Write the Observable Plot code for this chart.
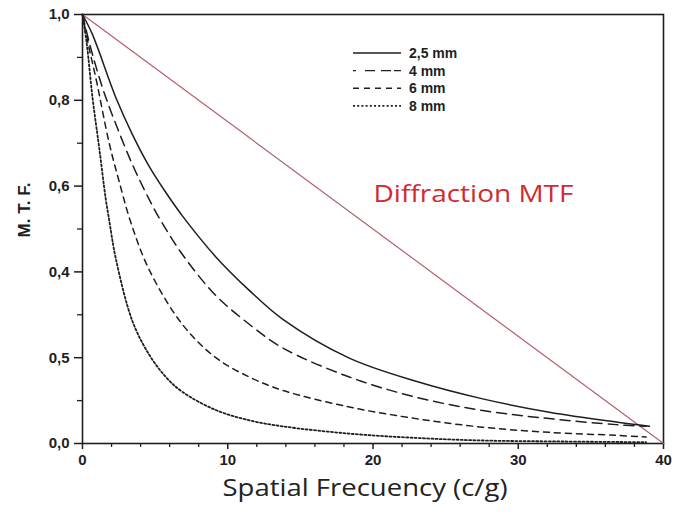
<!DOCTYPE html>
<html><head><meta charset="utf-8">
<script src="https://cdn.jsdelivr.net/npm/d3@7"></script>
<script src="https://cdn.jsdelivr.net/npm/@observablehq/plot@0.6"></script>
<style>body{margin:0;background:#fff} #chart{width:673px;height:519px}</style>
</head><body><div id="chart"></div>
<script>
// ---- data ----
const seriesNames = ["2,5 mm", "4 mm", "6 mm", "8 mm"];

const freq25 = [0, 0.69, 2.3, 3.44, 4.59, 5.74, 6.89, 9.18, 11.48, 13.77, 18.37, 22.96, 27.55, 32.14, 36.73, 39.03];
const mtf25  = [1.0, 0.953, 0.806, 0.72, 0.646, 0.585, 0.53, 0.435, 0.357, 0.29, 0.199, 0.145, 0.104, 0.073, 0.05, 0.04];

const freq4 = [0, 0.5, 1.38, 2.3, 3.44, 4.59, 5.28, 6.89, 9.18, 11.48, 13.77, 18.37, 22.96, 27.55, 32.14, 36.73, 38.8];
const mtf4  = [1.0, 0.93, 0.829, 0.744, 0.65, 0.569, 0.526, 0.44, 0.345, 0.278, 0.223, 0.155, 0.108, 0.077, 0.058, 0.044, 0.04];

const freq6 = [0, 0.4, 0.92, 1.84, 2.53, 3.33, 4.59, 6.89, 9.18, 11.48, 13.77, 18.37, 22.96, 27.55, 32.14, 36.73, 38.8];
const mtf6  = [1.0, 0.93, 0.852, 0.70, 0.61, 0.515, 0.405, 0.277, 0.20, 0.155, 0.124, 0.085, 0.058, 0.038, 0.026, 0.019, 0.015];

const freq8 = [0, 0.3, 0.69, 1.15, 1.6, 1.84, 2.3, 3.44, 4.59, 5.74, 6.89, 9.18, 11.48, 13.77, 18.37, 22.96, 27.55, 32.14, 38.8];
const mtf8  = [1.0, 0.93, 0.806, 0.689, 0.57, 0.52, 0.43, 0.285, 0.207, 0.155, 0.12, 0.078, 0.054, 0.04, 0.023, 0.013, 0.007, 0.005, 0.003];

const diffFreq = [0, 40];
const diffMtf  = [1.0, 0.0];
const diffLabel = "Diffraction MTF";

const xTicks = [0, 10, 20, 30, 40];
const xTickLabels = ["0", "10", "20", "30", "40"];
const xMinorTicks = [2, 4, 6, 8, 12, 14, 16, 18, 22, 24, 26, 28, 32, 34, 36, 38];
const yTicks = [0, 0.2, 0.4, 0.6, 0.8, 1.0];
const yTickLabels = ["0,0", "0,5", "0,4", "0,6", "0,8", "1,0"];
const yMinorTicks = [0.1, 0.3, 0.5, 0.7, 0.9];
const xLabel = "Spatial Frecuency (c/g)";
const yLabel = "M. T. F.";

// ---- styles ----
const dashes = [null, "10,6", "6,5", "2,2.2"];
const ink = "#1e1e1e";
const axisFont = "'Liberation Sans', Arial, sans-serif";
const labelFont = "'Open Sans', Lato, sans-serif";

const zip = (xs, ys, name) => xs.map((x, i) => ({x, y: ys[i], series: name}));
const curves = [
  zip(freq25, mtf25, seriesNames[0]),
  zip(freq4, mtf4, seriesNames[1]),
  zip(freq6, mtf6, seriesNames[2]),
  zip(freq8, mtf8, seriesNames[3])
];
const diffRows = zip(diffFreq, diffMtf, diffLabel);

const plot = Plot.plot({
  width: 673, height: 519,
  marginLeft: 82, marginRight: 10, marginTop: 14, marginBottom: 76,
  x: {domain: [0, 40]},
  y: {domain: [0, 1]},
  style: {fontFamily: axisFont, background: "#fff", color: ink},
  marks: [
    Plot.axisX({ticks: xMinorTicks, tickSize: 4, tickFormat: () => "", label: null, stroke: ink, strokeWidth: 1.3}),
    Plot.axisX({ticks: xTicks, tickFormat: d => xTickLabels[xTicks.indexOf(d)], tickSize: 6, tickPadding: 5,
      fontSize: 15, fontWeight: "bold", label: null, stroke: ink, strokeWidth: 1.5, fill: ink}),
    Plot.axisY({ticks: yMinorTicks, tickSize: 5, tickFormat: () => "", label: null, stroke: ink, strokeWidth: 1.3}),
    Plot.axisY({ticks: yTicks, tickFormat: d => yTickLabels[yTicks.indexOf(d)], tickSize: 8, tickPadding: 5,
      fontSize: 15, fontWeight: "bold", label: null, stroke: ink, strokeWidth: 1.5, fill: ink}),
    Plot.frame({stroke: ink, strokeWidth: 1.6}),
    Plot.line(diffRows, {x: "x", y: "y", stroke: "#b4606c", strokeWidth: 1.2}),
    ...curves.map((rows, i) => Plot.line(rows, {x: "x", y: "y", curve: "catmull-rom", stroke: ink,
      strokeWidth: i === 3 ? 1.8 : 1.5, strokeDasharray: dashes[i]})),
    Plot.text([diffLabel], {text: d => d, frameAnchor: "top-left", dx: 291, dy: 170, textAnchor: "start",
      fill: "#d22a30", fontSize: 24, fontFamily: labelFont}),
    Plot.text([xLabel], {text: d => d, frameAnchor: "bottom", dx: -8, dy: 52, fontSize: 24, fill: "#222",
      fontFamily: labelFont})
  ]
});
document.getElementById("chart").appendChild(plot);

const svg = d3.select(plot);
// stretch the two Calibri-like labels to the widths seen in the reference
svg.selectAll("text").filter(function() { return this.textContent === xLabel; })
  .attr("textLength", 285).attr("lengthAdjust", "spacingAndGlyphs");
svg.selectAll("text").filter(function() { return this.textContent === diffLabel; })
  .attr("textLength", 200).attr("lengthAdjust", "spacingAndGlyphs");

// y-axis title, rotated, left of the tick labels
svg.append("text")
  .attr("transform", "translate(24,210) rotate(-90)")
  .attr("text-anchor", "middle").attr("dy", "0.35em")
  .attr("font-family", axisFont).attr("font-weight", "bold").attr("font-size", 17)
  .attr("fill", ink).text(yLabel);

// legend inside the plot area (top-center)
const lg = svg.append("g").attr("transform", "translate(353,53)").attr("text-anchor", "start");
seriesNames.forEach((name, i) => {
  const row = lg.append("g").attr("transform", `translate(0,${i * 17.6})`);
  row.append("line").attr("x1", 0).attr("x2", 48).attr("y1", 0).attr("y2", 0)
    .attr("stroke", ink).attr("stroke-width", i === 3 ? 1.8 : 1.4)
    .attr("stroke-dasharray", i === 0 ? null : (i === 1 ? "3,9,10,6,10" : dashes[i]));
  row.append("text").attr("x", 56).attr("y", 0).attr("dy", "0.35em").attr("text-anchor", "start")
    .attr("font-family", axisFont).attr("font-weight", "bold").attr("font-size", 14)
    .attr("fill", ink).text(name);
});
</script>
</body></html>
